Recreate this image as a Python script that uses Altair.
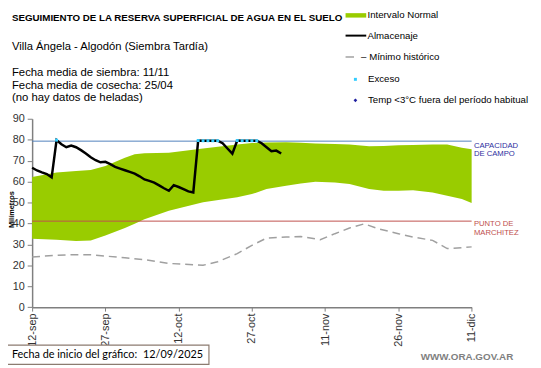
import json
import altair as alt
import pandas as pd

# ---------------- data ----------------
start_date = "12/09/2025"
tick_days = [0, 15, 30, 45, 60, 75, 90]
tick_labels = ["12-sep", "27-sep", "12-oct", "27-oct", "11-nov", "26-nov", "11-dic"]
y_ticks = [0, 10, 20, 30, 40, 50, 60, 70, 80, 90]

band_days = [0, 5, 9, 12, 15, 19, 21, 23, 28, 35, 42, 45, 48, 52, 55, 58, 62, 65, 69, 72, 75, 78, 82, 85, 88, 90]
band_upper = [62.2, 64.3, 65.0, 65.5, 67.4, 71.4, 73.0, 73.5, 73.8, 75.8, 77.7, 78.4, 78.6, 78.8, 78.5, 78.2, 77.9,
              77.7, 76.9, 77.0, 77.3, 77.5, 77.7, 77.7, 76.2, 75.4]
band_lower = [32.7, 32.2, 31.6, 31.9, 34.2, 37.8, 39.8, 42.0, 46.1, 50.1, 52.5, 54.0, 56.4, 58.0, 59.1, 59.9, 59.6,
              58.8, 56.4, 55.6, 55.6, 55.9, 54.8, 53.2, 51.7, 49.8]

alm_days = list(range(52))
alm_values = [66.6, 65.3, 64.4, 63.6, 62.0, 79.8, 77.8, 76.4, 77.2, 76.4,
              75.0, 73.4, 71.6, 70.2, 69.2, 69.4, 68.3, 67.0, 66.2, 65.4,
              64.6, 63.8, 62.5, 61.0, 60.3, 59.5, 58.2, 56.8, 55.6, 58.3,
              57.4, 56.4, 55.3, 54.8, 79.6, 79.5, 79.5, 79.5, 79.5, 78.3,
              75.8, 73.3, 79.6, 79.5, 79.5, 79.5, 79.5, 78.3, 76.4, 74.5,
              74.8, 73.4]

exc_days = [5, 34, 35, 36, 37, 38, 42, 43, 44, 45, 46]
exc_values = [79.8, 79.6, 79.5, 79.5, 79.5, 79.5, 79.6, 79.5, 79.5, 79.5, 79.5]

min_days = [0, 5, 9, 12, 19, 23, 28, 35, 38, 42, 45, 48, 52, 55, 59, 62, 65, 68, 71, 75, 78, 82, 85, 88, 90]
min_values = [24.0, 24.8, 25.1, 25.0, 23.6, 22.7, 20.9, 20.0, 21.7, 25.6, 29.5, 33.0, 33.5, 33.8, 32.2, 35.1,
              37.8, 39.8, 37.4, 35.1, 33.5, 31.9, 28.0, 28.4, 28.8]

capacidad_campo = 79.3
punto_marchitez = 41.1

# ---------------- layout ----------------
OX, OY = 32.5, 117.7          # plot origin in page pixels
W, H = 446.2, 191.3
FONT = "Liberation Sans"

band_df = pd.DataFrame({"day": band_days, "upper": band_upper, "lower": band_lower})
alm_df = pd.DataFrame({"day": alm_days, "v": alm_values})
exc_df = pd.DataFrame({"day": exc_days, "v": exc_values})
min_df = pd.DataFrame({"day": min_days, "v": min_values})
one = pd.DataFrame({"a": [0]})

label_expr = "[" + ",".join(json.dumps(s) for s in tick_labels) + "][indexof(" + json.dumps(tick_days) + ", datum.value)]"

xscale = alt.Scale(domain=[0, 90], nice=False, zero=False)
yscale = alt.Scale(domain=[0, 90], nice=False, zero=True)

xaxis = alt.Axis(values=tick_days, labelExpr=label_expr, labelAngle=-90,
                 title=None, grid=False, tickSize=4, labelPadding=2,
                 labelFontSize=11, labelFont=FONT, labelColor="#333333",
                 domainColor="#7f7f7f", tickColor="#7f7f7f", domainWidth=1.5,
                 labelOverlap=False)
yaxis = alt.Axis(values=y_ticks, title=None, grid=False, tickSize=5, labelPadding=3, labelFontSize=11,
                 labelFont=FONT, labelColor="#333333", domainColor="#7f7f7f", tickColor="#7f7f7f",
                 domainWidth=1.5, labelOverlap=False)


def X(field="day:Q"):
    return alt.X(field, scale=xscale, axis=xaxis)


def Y(field="v:Q"):
    return alt.Y(field, scale=yscale, axis=yaxis)


band = alt.Chart(band_df).mark_area(color="#99cc00", opacity=1).encode(
    x=X(), y=Y("upper:Q"), y2="lower:Q")

cc_rule = alt.Chart(pd.DataFrame({"v": [capacidad_campo]})).mark_rule(color="#4f81bd", strokeWidth=1).encode(
    y=Y())
pmp_rule = alt.Chart(pd.DataFrame({"v": [punto_marchitez]})).mark_rule(color="#c0504d", strokeWidth=1).encode(
    y=Y())

min_line = alt.Chart(min_df).mark_line(color="#a0a0a0", strokeWidth=1.5, strokeDash=[8, 5]).encode(
    x=X(), y=Y())

alm_line = alt.Chart(alm_df).mark_line(color="black", strokeWidth=2.5).encode(
    x=X(), y=Y())

exc_pts = alt.Chart(exc_df).mark_point(shape="square", filled=True, color="#33ccff", size=9, opacity=1).encode(
    x=X(), y=Y())


def txt(s, X_, Y_, size=11, color="black", weight="normal", align="left", font=FONT, angle=0):
    return alt.Chart(one).mark_text(text=s, align=align, baseline="middle", fontSize=size, color=color,
                                    fontWeight=weight, font=font, angle=angle).encode(
        x=alt.value(X_ - OX), y=alt.value(Y_ - OY))


LEG = 9.8
texts = [
    txt("SEGUIMIENTO DE LA RESERVA SUPERFICIAL DE AGUA EN EL SUELO", 12, 15, size=9.9, weight="bold"),
    txt("Villa Ángela - Algodón (Siembra Tardía)", 12, 45, size=11.4),
    txt("Fecha media de siembra: 11/11", 12, 71, size=11.5),
    txt("Fecha media de cosecha: 25/04", 12, 84, size=11.5),
    txt("(no hay  datos de heladas)", 12, 97, size=11.5),
    txt("Intervalo Normal", 373, 12.5, size=LEG),
    txt("Almacenaje", 373, 33.5, size=LEG),
    txt("– Mínimo histórico", 366.5, 55, size=LEG),
    txt("Exceso", 373.5, 77.5, size=LEG),
    txt("Temp <3°C fuera del período habitual", 373.5, 99, size=LEG),
    txt("CAPACIDAD", 481, 145, size=7.8, color="#2e2e9e"),
    txt("DE  CAMPO", 481, 154, size=7.8, color="#2e2e9e"),
    txt("PUNTO  DE", 481, 225, size=7.8, color="#c0504d"),
    txt("MARCHITEZ", 481, 234, size=7.8, color="#c0504d"),
    txt("Milímetros", 12.5, 210, size=7.5, weight="bold", align="center", angle=270),
    txt("Fecha de inicio del gráfico:", 12, 357.5, size=11, font="Lato"),
    txt(start_date, 145, 357.5, size=11, font="Lato"),
    txt("WWW.ORA.GOV.AR", 474, 360, size=10, color="#7f7f7f", weight="bold", align="center"),
]

legend_marks = [
    alt.Chart(one).mark_rect(color="#99cc00").encode(
        x=alt.value(350.7 - OX), x2=alt.value(371.7 - OX), y=alt.value(10.5 - OY), y2=alt.value(15 - OY)),
    alt.Chart(one).mark_rule(color="black", strokeWidth=2).encode(
        x=alt.value(350.7 - OX), x2=alt.value(371.7 - OX), y=alt.value(33.3 - OY)),
    alt.Chart(one).mark_rule(color="#a0a0a0", strokeWidth=1.5).encode(
        x=alt.value(350.7 - OX), x2=alt.value(359.3 - OX), y=alt.value(55 - OY)),
    alt.Chart(one).mark_point(shape="square", filled=True, color="#33ccff", size=9, opacity=1).encode(
        x=alt.value(360.7 - OX), y=alt.value(77.7 - OY)),
    alt.Chart(one).mark_point(shape="diamond", filled=True, color="#1f1fa0", size=14, opacity=1).encode(
        x=alt.value(360.7 - OX), y=alt.value(99 - OY)),
    alt.Chart(one).mark_rect(fill="white", stroke="#8c7b70", strokeWidth=1.2).encode(
        x=alt.value(6 - OX), x2=alt.value(212 - OX), y=alt.value(347.5 - OY), y2=alt.value(367 - OY)),
]

chart = alt.layer(band, cc_rule, pmp_rule, min_line, alm_line, exc_pts, *legend_marks, *texts).properties(
    width=W, height=H,
    padding={"left": OX - 8, "top": OY - 8, "right": 533 - (OX - 8) - W, "bottom": 359 - (OY - 8) - H},
    autosize=alt.AutoSizeParams(type="none"),
    background="white",
).configure_view(stroke=None).configure_axis(labelOverlap=False)

chart.save("out.html", embed_options={"renderer": "svg", "actions": False})
